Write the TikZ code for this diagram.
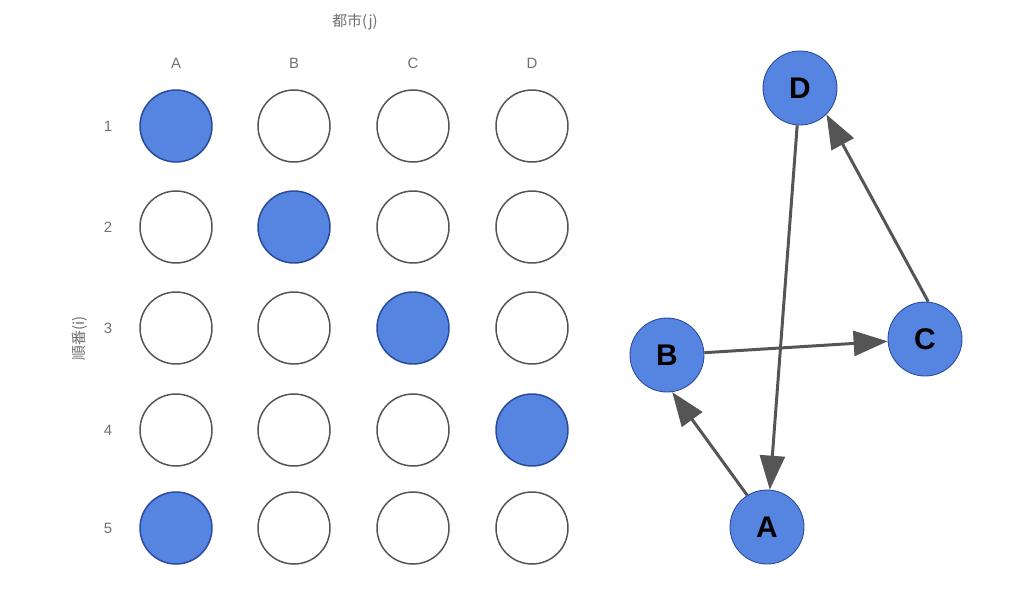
\documentclass[tikz,border=0pt]{standalone}
\usepackage{fontspec}
\setmainfont{Liberation Sans}
\newfontfamily\jpfont{Noto Sans CJK JP}
\usetikzlibrary{arrows.meta}
\definecolor{cellblue}{HTML}{5585E0}
\definecolor{rimblue}{HTML}{2A4A9A}
\definecolor{labgray}{HTML}{707070}
\definecolor{edgegray}{HTML}{555555}
\begin{document}
\begin{tikzpicture}[x=0.02cm, y=-0.02cm,
	cell/.style = {draw=edgegray, circle, minimum size=1.44cm, inner sep=0pt, line width=0.85pt},
	on/.style = {cell, fill=cellblue, draw=rimblue},
	lab/.style = {text=labgray, font=\fontsize{8.5}{10}\selectfont},
	main/.style = {draw=rimblue, fill=cellblue, circle, minimum size=1.48cm, inner sep=0pt, line width=0.5pt, font=\fontsize{17}{19}\bfseries\selectfont},
	edge/.style = {draw=edgegray, line width=1.7pt, -{Triangle[length=0.68cm, width=0.5cm]}}]
	\useasboundingbox (0,0) rectangle (1034,592);
	\node[lab] (title) at (355,22) {\jpfont 都市(j)};
	\node[lab, rotate=90] (order) at (80,338) {\jpfont 順番(i)};
	\node[lab] (cA) at (176,63) {A};
	\node[lab] (cB) at (294,63) {B};
	\node[lab] (cC) at (413,63) {C};
	\node[lab] (cD) at (532,63) {D};
	\node[lab] (r1) at (108,126) {1};
	\node[lab] (r2) at (108,227) {2};
	\node[lab] (r3) at (108,328) {3};
	\node[lab] (r4) at (108,430) {4};
	\node[lab] (r5) at (108,528) {5};
	\node[on] (a1) at (176,126) {};
	\node[cell] (b1) at (294,126) {};
	\node[cell] (c1) at (413,126) {};
	\node[cell] (d1) at (532,126) {};
	\node[cell] (a2) at (176,227) {};
	\node[on] (b2) at (294,227) {};
	\node[cell] (c2) at (413,227) {};
	\node[cell] (d2) at (532,227) {};
	\node[cell] (a3) at (176,328) {};
	\node[cell] (b3) at (294,328) {};
	\node[on] (c3) at (413,328) {};
	\node[cell] (d3) at (532,328) {};
	\node[cell] (a4) at (176,430) {};
	\node[cell] (b4) at (294,430) {};
	\node[cell] (c4) at (413,430) {};
	\node[on] (d4) at (532,430) {};
	\node[on] (a5) at (176,528) {};
	\node[cell] (b5) at (294,528) {};
	\node[cell] (c5) at (413,528) {};
	\node[cell] (d5) at (532,528) {};
	\node[main] (D) at (800,88) {D};
	\node[main] (B) at (667,355) {B};
	\node[main] (C) at (925,339) {C};
	\node[main] (A) at (767,527) {A};
	\draw[edge] (D) -- (A);
	\draw[edge] (A.122) -- (B.-82);
	\draw[edge] (B) -- (C);
	\draw[edge] (C.85) -- (D.-45);
\end{tikzpicture}
\end{document}
